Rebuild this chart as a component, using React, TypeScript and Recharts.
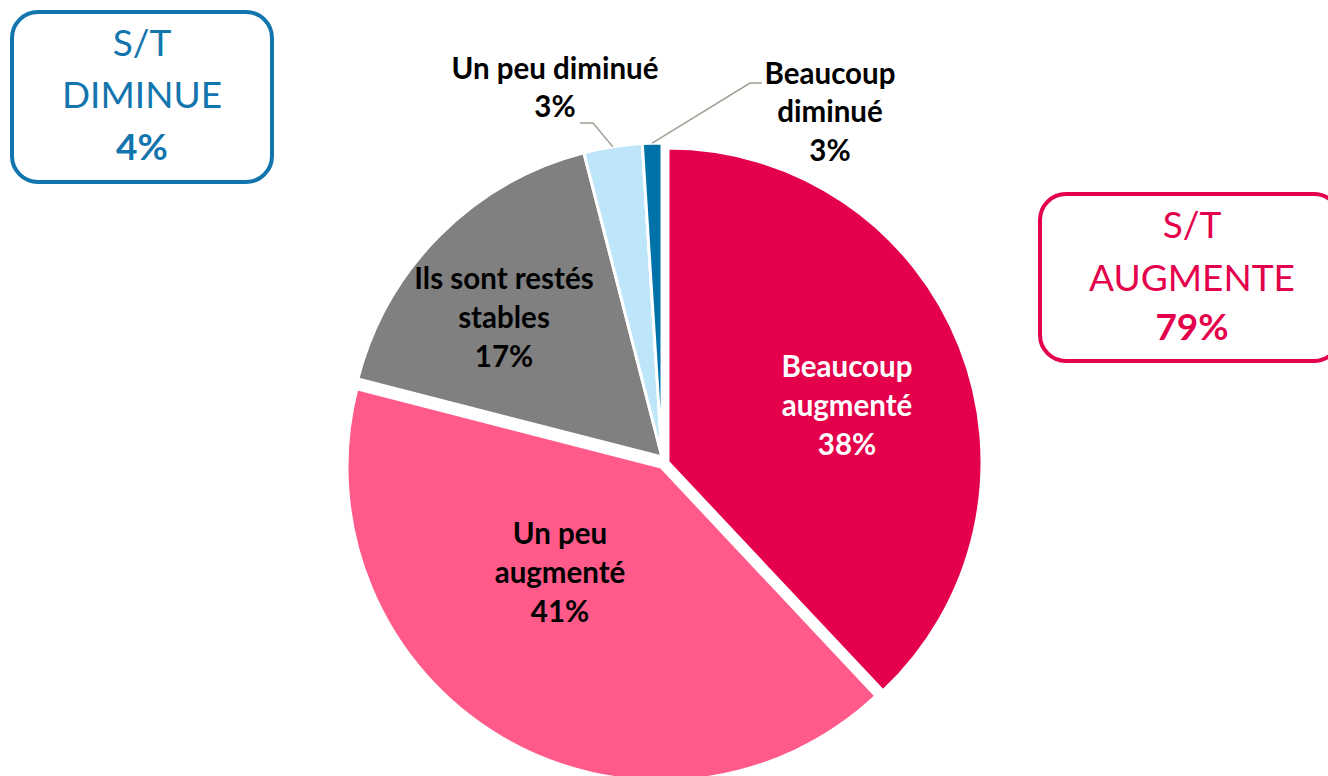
import React from 'react';
import { PieChart, Pie, Cell } from 'recharts';

// ---- Data ----
const CATEGORIES = ['Beaucoup augmenté', 'Un peu augmenté', 'Ils sont restés stables', 'Un peu diminué', 'Beaucoup diminué'];
const VALUES = [38, 41, 17, 3, 1];
const VALUE_LABELS = ['38%', '41%', '17%', '3%', '3%'];
const LABEL_LINES = [['Beaucoup', 'augmenté'], ['Un peu', 'augmenté'], ['Ils sont restés', 'stables'], ['Un peu diminué'], ['Beaucoup', 'diminué']];
const SUBTOTAL_TITLES = [['S/T', 'DIMINUE'], ['S/T', 'AUGMENTE']];
const SUBTOTAL_VALUES = ['4%', '79%'];

// ---- Styles / layout ----
const COLORS = ['#E4004B', '#FF5A8A', '#808080', '#BEE6FA', '#0072AA'];
const TEXT_COLORS = ['#FFFFFF', '#000000', '#000000', '#000000', '#000000'];
const W = 1328;
const H = 776;
const R = 314;
const FONT = 'Lato, "Open Sans", sans-serif';
const LABEL_SIZE = 29.5;
// label anchor: center x, first line center y, line height
const LABEL_POS = [
  { x: 847, y: 366, lh: 39 },
  { x: 560, y: 533, lh: 39 },
  { x: 504, y: 278, lh: 39 },
  { x: 555, y: 68, lh: 38 },
  { x: 830, y: 73, lh: 38.5 },
];
// leader elbows for outside labels: [start, elbow]
const LEADERS: Record<number, [number, number][]> = {
  3: [[580, 123], [593, 123]],
  4: [[762, 83], [750, 83]],
};
// pie groups (exploded slices)
const GROUPS = [
  { cx: 662, cy: 457, members: [2, 3, 4] },
  { cx: 668, cy: 462, members: [0] },
  { cx: 661, cy: 467, members: [1] },
];

const data = CATEGORIES.map((name, i) => ({ name, value: VALUES[i] }));
const RAD = Math.PI / 180;

function makeLabel(members: number[]) {
  return (props: any) => {
    const { index, cx, cy, midAngle, outerRadius } = props;
    if (!members.includes(index)) return null;
    const pos = LABEL_POS[index];
    const lines = [...LABEL_LINES[index], VALUE_LABELS[index]];
    const leader = LEADERS[index];
    let line = null;
    if (leader) {
      const ex = cx + outerRadius * Math.cos(-midAngle * RAD);
      const ey = cy + outerRadius * Math.sin(-midAngle * RAD);
      const pts = [...leader, [ex, ey]].map((p) => p.join(',')).join(' ');
      line = <polyline points={pts} fill="none" stroke="#A39D92" strokeWidth={1.5} />;
    }
    return (
      <g key={`lbl-${index}`}>
        {line}
        <text
          textAnchor="middle"
          fontFamily={FONT}
          fontWeight={700}
          fontSize={LABEL_SIZE}
          fill={TEXT_COLORS[index]}
        >
          {lines.map((t, k) => (
            <tspan key={k} x={pos.x} y={pos.y + k * pos.lh + LABEL_SIZE * 0.36}>
              {t}
            </tspan>
          ))}
        </text>
      </g>
    );
  };
}

const BOXES = [
  { x: 12, y: 12, w: 260, h: 170, color: '#1275AD', cx: 142, lines: [43, 95, 147] },
  { x: 1040, y: 194, w: 300, h: 167, color: '#E4004B', cx: 1192, lines: [225, 278, 327] },
];

export default function App() {
  return (
    <div style={{ position: 'absolute', left: 0, top: 0, width: W, height: H, background: '#fff', overflow: 'hidden' }}>
      <PieChart width={W} height={H} margin={{ top: 0, right: 0, bottom: 0, left: 0 }}>
        {GROUPS.map((g, gi) => (
          <Pie
            key={gi}
            data={data}
            dataKey="value"
            nameKey="name"
            cx={g.cx}
            cy={g.cy}
            outerRadius={R}
            startAngle={90}
            endAngle={-270}
            isAnimationActive={false}
            labelLine={false}
            label={makeLabel(g.members)}
          >
            {data.map((_, i) => (
              <Cell
                key={i}
                fill={g.members.includes(i) ? COLORS[i] : 'none'}
                stroke={g.members.includes(i) ? '#FFFFFF' : 'none'}
                strokeWidth={3}
              />
            ))}
          </Pie>
        ))}
      </PieChart>
      <svg width={W} height={H} style={{ position: 'absolute', left: 0, top: 0, pointerEvents: 'none' }}>
        {BOXES.map((b, i) => (
          <g key={i}>
            <rect x={b.x} y={b.y} width={b.w} height={b.h} rx={26} ry={26} fill="none" stroke={b.color} strokeWidth={4} />
            {[...SUBTOTAL_TITLES[i], SUBTOTAL_VALUES[i]].map((t, k) => (
              <text
                key={k}
                x={b.cx}
                y={b.lines[k] + 37 * 0.36}
                textAnchor="middle"
                fontFamily={FONT}
                fontSize={37}
                fontWeight={k === 2 ? 700 : 400}
                fill={b.color}
              >
                {t}
              </text>
            ))}
          </g>
        ))}
      </svg>
    </div>
  );
}
